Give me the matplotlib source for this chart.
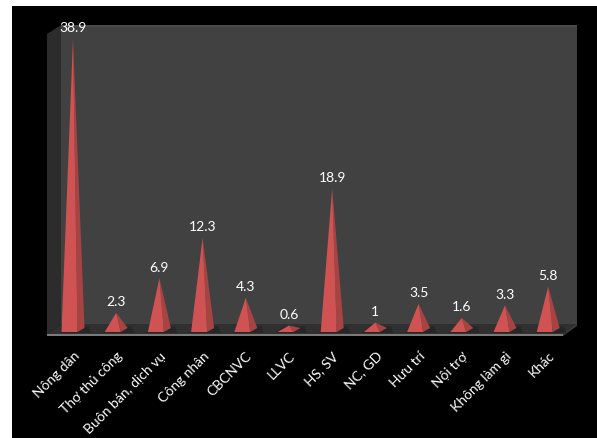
import numpy as np
import matplotlib
matplotlib.use("Agg")
import matplotlib.pyplot as plt
from matplotlib.patches import Polygon

plt.rcParams['font.family'] = ['Lato', 'Noto Sans', 'DejaVu Sans']

categories = ["Nông dân", "Thợ thủ công", "Buôn bán, dịch vụ", "Công nhân", "CBCNVC",
              "LLVC", "HS, SV", "NC, GD", "Hưu trí", "Nội trợ", "Không làm gì", "Khác"]
values = [38.9, 2.3, 6.9, 12.3, 4.3, 0.6, 18.9, 1.0, 3.5, 1.6, 3.3, 5.8]
value_labels = ["38.9", "2.3", "6.9", "12.3", "4.3", "0.6", "18.9", "1", "3.5", "1.6", "3.3", "5.8"]

W, H = 597, 439
fig = plt.figure(figsize=(W / 100, H / 100), dpi=100)
fig.patch.set_facecolor("white")


def px(x, y):
    # pixel (from top-left) -> figure fraction
    return (x / W, 1 - y / H)


def fig_poly(pts, color):
    fig.patches.append(Polygon([px(*p) for p in pts], closed=True, facecolor=color,
                               edgecolor="none", transform=fig.transFigure, zorder=-10))


# black chart area, walls and floor
fig_poly([(12, 7), (597, 7), (597, 439), (12, 439)], "black")
fig_poly([(47, 35), (61, 26), (61, 325), (47, 335)], "#2c2c2c")
fig_poly([(61, 26), (577, 26), (577, 325), (61, 325)], "#414141")
fig_poly([(61, 26), (577, 26), (577, 27.5), (61, 27.5)], "#4a4a4a")
fig_poly([(47, 335), (61, 325), (577, 325), (563, 335)], "#303030")
fig_poly([(47, 334.5), (563, 334.5), (563, 337), (47, 337)], "#7a7a7a")
fig_poly([(563, 334.5), (577, 324.5), (577, 327), (563, 337)], "#3a3a3a")

# axes: left 47px, right 577px, bottom 336px, top 26px
ax = fig.add_axes([47 / W, 1 - 336 / H, (577 - 47) / W, (336 - 26) / H])
ax.set_facecolor("none")
ppx = 43.2   # pixels per category
ppy = 7.5    # pixels per unit
x0 = 73
ax.set_xlim((47 - x0) / ppx, (577 - x0) / ppx)
ax.set_ylim(-3 / ppy, -3 / ppy + 310 / ppy)
for s in ax.spines.values():
    s.set_visible(False)
ax.tick_params(length=0, colors="white")
ax.set_yticks([])

hw = 8 / ppx
dx = 7 / ppx
dy = 4 / ppy
for i, v in enumerate(values):
    c = i - dx / 2
    fl = (c - hw, 0)
    fr = (c + hw, 0)
    br = (c + hw + dx, dy)
    apex = (c + dx / 2, v + dy / 2)
    # faint shadow on the floor
    ax.add_patch(Polygon([(c - hw - 0.05, -0.1), (c + hw + dx + 0.15, -0.1),
                          (c + hw + dx + 0.1, dy + 0.2), (c - hw + dx, dy + 0.2)],
                         facecolor="#262626", edgecolor="none", clip_on=False, zorder=2))
    ax.add_patch(Polygon([fr, br, apex], facecolor="#a84343", edgecolor="none",
                         clip_on=False, zorder=3))
    ax.add_patch(Polygon([fl, fr, apex], facecolor="#cf5353", edgecolor="none",
                         clip_on=False, zorder=4))
    ax.annotate(value_labels[i], (apex[0], apex[1]), xytext=(0, 4), textcoords="offset points",
                ha="center", va="bottom", color="white", fontsize=10, zorder=5)

ax.set_xticks(np.arange(len(categories)))
ax.set_xticklabels(categories, rotation=45, ha="right", rotation_mode="anchor",
                   fontsize=10, color="white")
ax.tick_params(axis="x", pad=10)

fig.savefig("out.png", dpi=100, facecolor=fig.get_facecolor())
